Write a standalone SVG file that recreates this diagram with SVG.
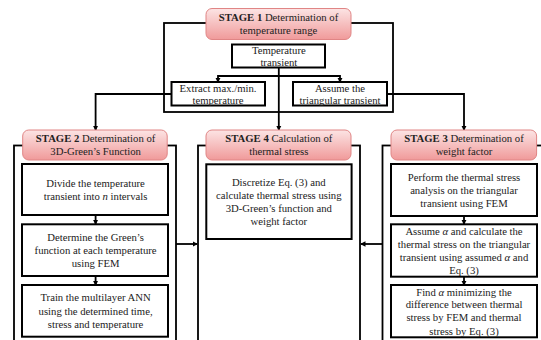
<svg xmlns="http://www.w3.org/2000/svg" width="541" height="340" viewBox="0 0 541 340" font-family="'Liberation Serif', 'DejaVu Serif', serif">
<defs>
<linearGradient id="pink" x1="0" y1="0" x2="0" y2="1">
<stop offset="0" stop-color="#fce4e4"/>
<stop offset="1" stop-color="#f09a9a"/>
</linearGradient>
<marker id="arr" viewBox="0 0 6 6" refX="5" refY="3" markerWidth="3" markerHeight="3" orient="auto">
<path d="M0,0 L6,3 L0,6 z" fill="#000"/>
</marker>
<style>
text{font-family:'Liberation Serif','DejaVu Serif',serif;font-size:10.7px;fill:#222;text-anchor:middle}
.b{font-weight:bold}
.stage{fill:url(#pink);stroke:#e08585;stroke-width:1}
.box{fill:#fff;stroke:#000;stroke-width:2}
.frame{fill:none;stroke:#000;stroke-width:1.8}
.con{fill:none;stroke:#000;stroke-width:1.8}
.arr{marker-end:url(#arr)}
</style>
</defs>
<rect width="541" height="340" fill="#fff"/>

<g id="frames">
<rect class="frame" x="164" y="23" width="229" height="89"/>
<rect class="frame" x="14" y="145.5" width="162" height="200"/>
<rect class="frame" x="198" y="145.5" width="162" height="200"/>
<rect class="frame" x="382.5" y="145.5" width="170" height="200"/>
</g>

<g id="connectors">
<path class="con arr" d="M278.8,68 V76 H218 V82"/>
<path class="con arr" d="M278.8,76 H340 V82"/>
<path class="con arr" d="M278.8,76 V130"/>
<path class="con arr" d="M171.5,94 H95.6 V130"/>
<path class="con arr" d="M387,94 H464 V130"/>
<path class="con arr" d="M95.6,215 V224"/>
<path class="con arr" d="M95.6,276 V285"/>
<path class="con arr" d="M464,216 V224"/>
<path class="con arr" d="M464,277 V285"/>
<path class="con arr" d="M176,244 H197"/>
<path class="con arr" d="M382.5,244 H361"/>
</g>

<g id="stage1">
<rect class="stage" x="206" y="8.5" width="145" height="31" rx="6"/>
<text x="278.5" y="21"><tspan class="b">STAGE 1</tspan> Determination of</text>
<text x="278.5" y="34.3">temperature range</text>
</g>

<g id="temp-transient">
<rect class="box" x="232" y="44.5" width="93" height="23"/>
<text x="278.8" y="54">Temperature</text>
<text x="278.8" y="66.3">transient</text>
</g>

<g id="extract">
<rect class="box" x="171.5" y="82" width="93.5" height="23.5"/>
<text x="218" y="91.7">Extract max./min.</text>
<text x="218" y="103.7">temperature</text>
</g>

<g id="assume-tri">
<rect class="box" x="293" y="82" width="94" height="23.5"/>
<text x="340" y="91.7">Assume the</text>
<text x="340" y="103.7">triangular transient</text>
</g>

<g id="stage2">
<rect class="stage" x="22.7" y="130" width="144.5" height="30" rx="6"/>
<text x="95.6" y="142"><tspan class="b">STAGE 2</tspan> Determination of</text>
<text x="95.6" y="155.4">3D-Green’s Function</text>
</g>

<g id="s2-box1">
<rect class="box" x="22" y="164" width="146" height="51"/>
<text x="95.6" y="186.7">Divide the temperature</text>
<text x="95.6" y="199.7">transient into <tspan font-style="italic">n</tspan> intervals</text>
</g>

<g id="s2-box2">
<rect class="box" x="22" y="224.3" width="146" height="51.7"/>
<text x="95.6" y="241">Determine the Green’s</text>
<text x="95.6" y="253.7">function at each temperature</text>
<text x="95.6" y="267">using FEM</text>
</g>

<g id="s2-box3">
<rect class="box" x="22" y="285" width="146" height="51.7"/>
<text x="95.6" y="301.4">Train the multilayer ANN</text>
<text x="95.6" y="314.7">using the determined time,</text>
<text x="95.6" y="327.7">stress and temperature</text>
</g>

<g id="stage4">
<rect class="stage" x="206" y="130" width="145" height="30" rx="6"/>
<text x="278.8" y="142"><tspan class="b">STAGE 4</tspan> Calculation of</text>
<text x="278.8" y="155.4">thermal stress</text>
</g>

<g id="s4-box1">
<rect class="box" x="206.3" y="164.3" width="145.3" height="74.7"/>
<text x="278.8" y="186">Discretize Eq. (3) and</text>
<text x="278.8" y="199">calculate thermal stress using</text>
<text x="278.8" y="212">3D-Green’s function and</text>
<text x="278.8" y="224.7">weight factor</text>
</g>

<g id="stage3">
<rect class="stage" x="391" y="130" width="145.6" height="30" rx="6"/>
<text x="464" y="142"><tspan class="b">STAGE 3</tspan> Determination of</text>
<text x="464" y="155.4">weight factor</text>
</g>

<g id="s3-box1">
<rect class="box" x="391" y="164" width="146" height="52"/>
<text x="464" y="181">Perform the thermal stress</text>
<text x="464" y="193.7">analysis on the triangular</text>
<text x="464" y="206.7">transient using FEM</text>
</g>

<g id="s3-box2">
<rect class="box" x="391" y="224.3" width="146" height="52.4"/>
<text x="464" y="234.7">Assume <tspan font-style="italic">α</tspan> and calculate the</text>
<text x="464" y="247.7">thermal stress on the triangular</text>
<text x="464" y="260.7">transient using assumed <tspan font-style="italic">α</tspan> and</text>
<text x="464" y="273.7">Eq. (3)</text>
</g>

<g id="s3-box3">
<rect class="box" x="391" y="285" width="146" height="52.3"/>
<text x="464" y="295.7">Find <tspan font-style="italic">α</tspan> minimizing the</text>
<text x="464" y="308.4">difference between thermal</text>
<text x="464" y="321.4">stress by FEM and thermal</text>
<text x="464" y="334.7">stress by Eq. (3)</text>
</g>
</svg>
